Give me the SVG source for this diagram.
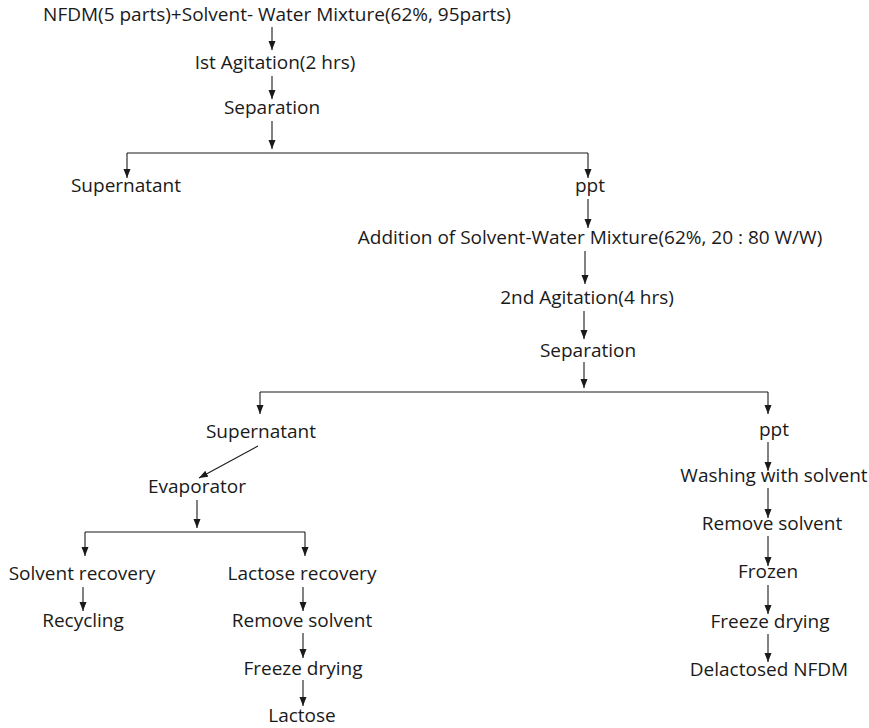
<svg xmlns="http://www.w3.org/2000/svg" width="869" height="728" viewBox="0 0 869 728">
<style>
text{font-family:"Open Sans","Liberation Sans",sans-serif;font-size:19px;fill:#1a1a1a;text-anchor:middle}
.c{stroke:#1a1a1a;stroke-width:1.1;fill:none}
.a{marker-end:url(#ah)}
</style>
<defs>
<marker id="ah" markerUnits="userSpaceOnUse" markerWidth="10" markerHeight="10" refX="9" refY="3.5" orient="auto">
<path d="M0,0 L9,3.5 L0,7 Z" fill="#1a1a1a"/>
</marker>
</defs>
<rect width="869" height="728" fill="#fff"/>
<g id="connectors">
<path class="c a" d="M272,27 V50"/>
<path class="c a" d="M272,76 V99"/>
<path class="c a" d="M272,121 V149"/>
<path class="c" d="M127,153 H588"/>
<path class="c a" d="M127,153 V178"/>
<path class="c a" d="M588,153 V178"/>
<path class="c a" d="M588,199 V228"/>
<path class="c a" d="M585,251 V284"/>
<path class="c a" d="M584,311 V339"/>
<path class="c a" d="M584,362 V388"/>
<path class="c" d="M260,392 H768"/>
<path class="c a" d="M260,392 V414"/>
<path class="c a" d="M768,392 V414"/>
<path class="c a" d="M258,446 L199,478"/>
<path class="c a" d="M197,500 V528"/>
<path class="c" d="M85,532 H305"/>
<path class="c a" d="M85,532 V556"/>
<path class="c a" d="M305,532 V556"/>
<path class="c a" d="M83,587 V611"/>
<path class="c a" d="M303,587 V611"/>
<path class="c a" d="M303,633 V658"/>
<path class="c a" d="M303,680 V706"/>
<path class="c a" d="M768,442 V471"/>
<path class="c a" d="M768,488 V518"/>
<path class="c a" d="M768,536 V566"/>
<path class="c a" d="M768,585 V614"/>
<path class="c a" d="M768,634 V662"/>
</g>
<g id="n_start"><text x="277" y="21">NFDM(5 parts)+Solvent- Water Mixture(62%, 95parts)</text></g>
<g id="n_agit1"><text x="275" y="69">Ist Agitation(2 hrs)</text></g>
<g id="n_sep1"><text x="272" y="114">Separation</text></g>
<g id="n_super1"><text x="126" y="192">Supernatant</text></g>
<g id="n_ppt1"><text x="590" y="192">ppt</text></g>
<g id="n_add"><text x="590" y="244">Addition of Solvent-Water Mixture(62%, 20 : 80 W/W)</text></g>
<g id="n_agit2"><text x="587" y="304">2nd Agitation(4 hrs)</text></g>
<g id="n_sep2"><text x="588" y="357">Separation</text></g>
<g id="n_super2"><text x="261" y="438">Supernatant</text></g>
<g id="n_evap"><text x="197" y="493">Evaporator</text></g>
<g id="n_solrec"><text x="82" y="580">Solvent recovery</text></g>
<g id="n_recyc"><text x="83" y="627">Recycling</text></g>
<g id="n_lacrec"><text x="302" y="580">Lactose recovery</text></g>
<g id="n_remsol1"><text x="302" y="627">Remove solvent</text></g>
<g id="n_freeze1"><text x="303" y="675">Freeze drying</text></g>
<g id="n_lactose"><text x="302" y="722">Lactose</text></g>
<g id="n_ppt2"><text x="774" y="436">ppt</text></g>
<g id="n_wash"><text x="774" y="482">Washing with solvent</text></g>
<g id="n_remsol2"><text x="772" y="530">Remove solvent</text></g>
<g id="n_frozen"><text x="768" y="578">Frozen</text></g>
<g id="n_freeze2"><text x="770" y="628">Freeze drying</text></g>
<g id="n_delac"><text x="769" y="676">Delactosed NFDM</text></g>
</svg>
